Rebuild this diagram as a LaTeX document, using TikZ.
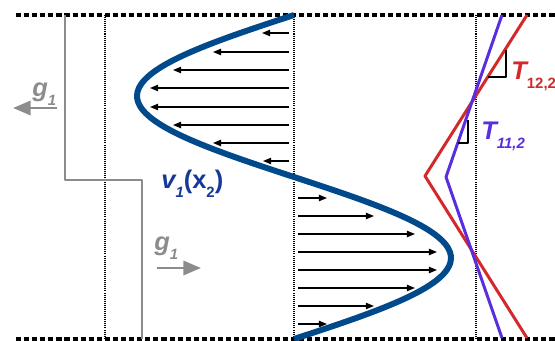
\documentclass[tikz,border=0pt]{standalone}
\usepackage{fontspec}
\setmainfont{Liberation Sans}
\usetikzlibrary{arrows.meta}
\definecolor{flowBlue}{RGB}{0,74,140}
\definecolor{labelBlue}{RGB}{22,56,152}
\definecolor{tempRed}{RGB}{212,40,42}
\definecolor{tempViolet}{RGB}{90,46,222}
\definecolor{fieldGray}{RGB}{140,140,140}
\newcommand{\lowidx}[1]{\raisebox{-0.6ex}{\fontsize{8.5}{9}\selectfont #1}}
\begin{document}
\begin{tikzpicture}
% TikZ flow profile, pixel units
\def\pxsz{0.02cm}
\providecommand{\wallLineWidth}{1.8pt}
\providecommand{\flowLineWidth}{3.4pt}
\begin{scope}[x=\pxsz, y=-\pxsz, line join=round,
  lbl/.style={font=\fontsize{14.5}{16}\selectfont\bfseries\itshape, inner sep=0pt, anchor=base west},
  vel/.style={line width=0.75pt, -{Triangle[length=4.6pt, width=3.6pt]}},
  field/.style={draw=fieldGray, line width=1.7pt, -{Triangle[length=10pt, width=8pt]}}]
  \useasboundingbox (0,0) rectangle (555,341);
  % Walls
  \begin{scope}[line width=\wallLineWidth, dash pattern=on 2.9pt off 1.7pt]
    \draw (16,15) -- (555,15);
    \draw (16,339) -- (555,339);
  \end{scope}
  % Dotted guides
  \begin{scope}[line width=0.6pt, dash pattern=on 0.57pt off 0.6pt]
    \draw (105,15) -- (105,339);
    \draw (294,15) -- (294,339);
    \draw (476,15) -- (476,339);
  \end{scope}
  % Field step
  \draw[draw=fieldGray, line width=1.2pt] (65,15) -- (65,180) -- (142,180) -- (142,339);
  \draw[field] (57,108) -- (13,108);
  \draw[field] (157,268) -- (201,268);
  \node[lbl, text=fieldGray] (gLeft) at (32,97) {g\lowidx{1}};
  \node[lbl, text=fieldGray] (gRight) at (154,251) {g\lowidx{1}};
  % Velocity arrows
  \foreach \yy/\tip in {33/262, 52/213, 70/173, 88/150, 107/150, 125/173, 143/213, 161/263}
    \draw[vel] (289,\yy) -- (\tip,\yy);
  \foreach \yy/\tip in {198/327, 216/374, 234/415, 252/437, 270/437, 288/415, 306/374, 324/327}
    \draw[vel] (298,\yy) -- (\tip,\yy);
  % Velocity profile
  \draw[draw=flowBlue, line width=\flowLineWidth, line cap=butt]
    plot[domain=15:339, samples=90, smooth] ({294-157*sin(1.1111*(\x-15))}, \x);
  \node[lbl, text=labelBlue] (vLabel) at (161,189) {v\lowidx{1}\upshape(x\lowidx{2})};
  % Temperature profiles
  \draw[draw=tempRed, line width=1.7pt] (527,15) -- (425,176) -- (527,338);
  \draw[draw=tempViolet, line width=1.7pt] (502,15) -- (446,177) -- (502,338);
  \draw[line width=0.6pt] (506,50) -- (506,77) -- (488,77);
  \draw[line width=0.6pt] (468,120) -- (468,143) -- (458,143);
  \node[lbl, text=tempRed] (tRed) at (511,80) {T\lowidx{\upshape 12,2}};
  \node[lbl, text=tempViolet] (tViolet) at (481,140) {T\lowidx{11,2}};
\end{scope}
\end{tikzpicture}
\end{document}
